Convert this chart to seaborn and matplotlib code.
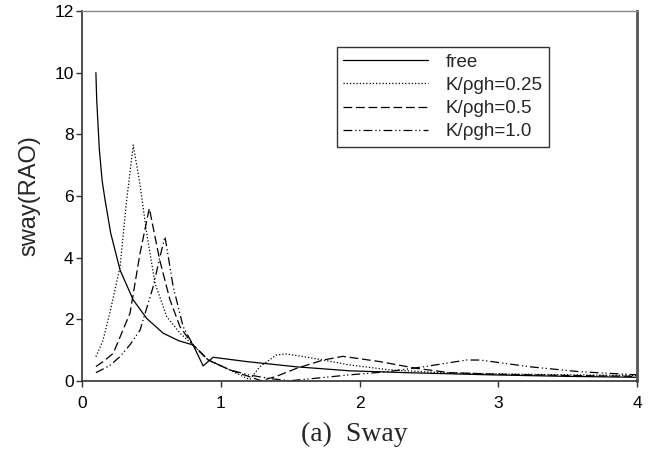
import matplotlib
matplotlib.use("Agg")
import matplotlib.pyplot as plt
import seaborn as sns
import pandas as pd

# ---- data ----
free_x = [0.10, 0.106, 0.125, 0.145, 0.166, 0.207, 0.274, 0.369, 0.466, 0.585, 0.70, 0.80, 0.873, 0.945,
          1.186, 1.546, 1.93, 2.34, 2.94, 3.5, 4.0]
free_y = [10.0, 9.1, 7.5, 6.5, 5.87, 4.79, 3.6, 2.63, 2.03, 1.55, 1.30, 1.17, 0.49, 0.77,
          0.63, 0.46, 0.33, 0.27, 0.20, 0.15, 0.12]

k25_x = [0.10, 0.15, 0.20, 0.274, 0.32, 0.369, 0.417, 0.466, 0.526, 0.61, 0.706, 0.80, 0.91, 1.065,
         1.186, 1.21, 1.28, 1.40, 1.47, 1.665, 1.93, 2.22, 2.58, 3.0, 3.5, 4.0]
k25_y = [0.79, 1.3, 2.2, 3.7, 5.8, 7.65, 6.4, 4.79, 3.17, 2.09, 1.55, 1.17, 0.68, 0.36,
         0.09, 0.05, 0.46, 0.84, 0.88, 0.74, 0.52, 0.36, 0.27, 0.23, 0.20, 0.18]

k50_x = [0.10, 0.16, 0.225, 0.346, 0.418, 0.485, 0.56, 0.634, 0.706, 0.80, 0.91, 1.065, 1.18, 1.29,
         1.40, 1.546, 1.737, 1.88, 2.145, 2.41, 2.65, 3.0, 3.5, 4.0]
k50_y = [0.47, 0.65, 0.9, 2.2, 4.14, 5.6, 3.92, 2.63, 1.76, 1.17, 0.68, 0.36, 0.18, 0.01,
         0.15, 0.41, 0.68, 0.80, 0.63, 0.41, 0.27, 0.22, 0.18, 0.15]

k100_x = [0.10, 0.20, 0.274, 0.35, 0.418, 0.513, 0.56, 0.598, 0.657, 0.729, 0.80, 0.91, 1.065, 1.2,
          1.35, 1.5, 1.71, 1.93, 2.2, 2.46, 2.77, 2.87, 3.23, 3.59, 4.0]
k100_y = [0.27, 0.5, 0.79, 1.2, 1.65, 3.06, 4.0, 4.68, 3.06, 1.76, 1.17, 0.68, 0.36, 0.2,
          0.08, 0.01, 0.1, 0.2, 0.3, 0.46, 0.68, 0.68, 0.46, 0.3, 0.2]

labels = ["free", "K/\u03c1gh=0.25", "K/\u03c1gh=0.5", "K/\u03c1gh=1.0"]
x_ticks = [0, 1, 2, 3, 4]
y_ticks = [0, 2, 4, 6, 8, 10, 12]

# ---- plotting ----
sns.set_style("ticks")
plt.rcParams["font.family"] = ["Liberation Sans", "DejaVu Sans"]

fig = plt.figure(figsize=(6.53, 4.57), dpi=100)
ax = fig.add_axes([0.1256, 0.1663, 0.85, 0.8097])

series = [(free_x, free_y, "-"),
          (k25_x, k25_y, (0, (1, 1.6))),
          (k50_x, k50_y, (0, (7, 3))),
          (k100_x, k100_y, (0, (7, 2.5, 1, 2, 1, 2.5)))]

for (xs, ys, ls), lab in zip(series, labels):
    df = pd.DataFrame({"x": xs, "y": ys})
    sns.lineplot(data=df, x="x", y="y", ax=ax, color="black", linestyle=ls,
                 linewidth=0.9, label=lab, sort=False, estimator=None)

ax.set_xlim(0, 4)
ax.set_ylim(0, 12)
ax.set_xticks(x_ticks)
ax.set_yticks(y_ticks)
ax.tick_params(axis="both", direction="out", length=4, width=1.0, color="#333333",
               labelsize=12.5, labelcolor="black")
ax.tick_params(axis="y", pad=2)
ax.tick_params(axis="x", pad=7)

for side in ["left", "bottom"]:
    ax.spines[side].set_color("#333333")
    ax.spines[side].set_linewidth(1.2)
ax.spines["top"].set_color("#888888")
ax.spines["top"].set_linewidth(1.0)
ax.spines["right"].set_color("#555555")
ax.spines["right"].set_linewidth(2.0)

ax.set_xlabel("")
ax.set_ylabel("sway(RAO)", fontsize=17, labelpad=10)

leg = ax.legend(loc="upper left", bbox_to_anchor=(0.459, 0.903), fontsize=13.5,
                frameon=True, fancybox=False, shadow=False, handlelength=4.5,
                handletextpad=0.95, labelspacing=0.33, borderpad=0.35,
                borderaxespad=0.0)
leg.get_frame().set_edgecolor("#333333")
leg.get_frame().set_linewidth(1.0)
leg.get_frame().set_alpha(1)

fig.text(0.543, 0.035, "(a)  Sway", ha="center", va="baseline", fontsize=20,
         family=["Liberation Serif", "DejaVu Serif"])

fig.savefig("out.png", dpi=100)
